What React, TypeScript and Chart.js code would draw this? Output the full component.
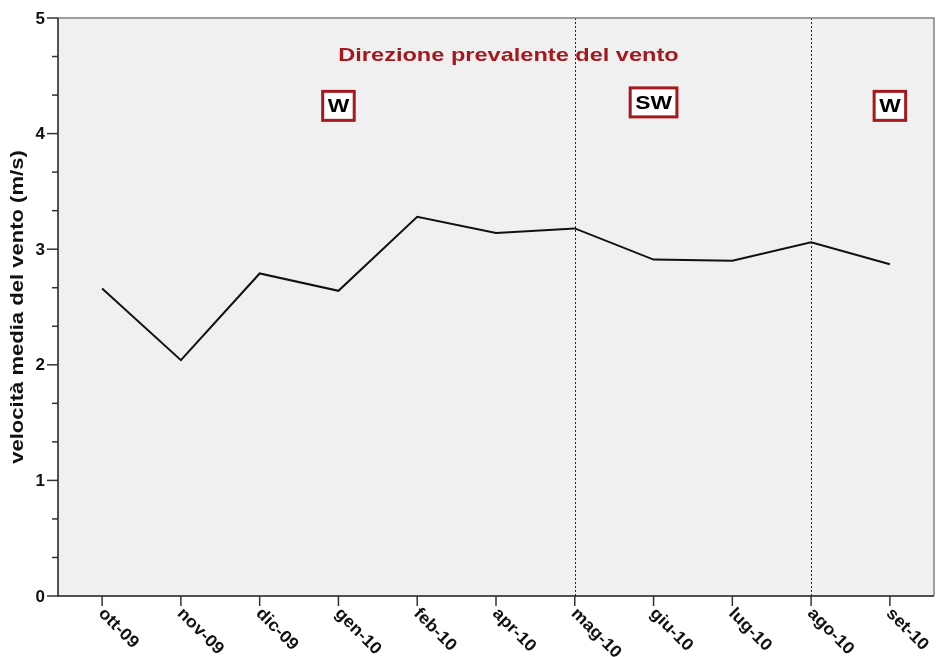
import React, { useEffect, useRef } from "react";
import { Chart, registerables } from "chart.js";

Chart.register(...registerables);

const categories = ["ott-09", "nov-09", "dic-09", "gen-10", "feb-10", "apr-10", "mag-10", "giu-10", "lug-10", "ago-10", "set-10"];
const windSpeed = [2.66, 2.04, 2.79, 2.64, 3.28, 3.14, 3.18, 2.91, 2.90, 3.06, 2.87];
const yTicks = [0, 1, 2, 3, 4, 5];
const dividerCategories = ["mag-10", "ago-10"];
const directionLabels = ["W", "SW", "W"];
const directionCategories = ["gen-10", "giu-10", "set-10"];
const directionTitle = "Direzione prevalente del vento";
const yAxisTitle = "velocità media del vento (m/s)";

const FONT = '"Liberation Sans", Arial, Helvetica, sans-serif';
const RED = "#a3191f";

function stretchedText(ctx: any, text: string, x: number, y: number, sx: number) {
  ctx.save();
  ctx.translate(x, y);
  ctx.scale(sx, 1);
  ctx.fillText(text, 0, 0);
  ctx.restore();
}

const drawPlugin = {
  id: "customDraw",
  beforeDatasetsDraw(chart: any) {
    const { ctx, chartArea: a, scales } = chart;
    const xs = scales.x;
    ctx.save();
    ctx.fillStyle = "#f0f0f0";
    ctx.fillRect(a.left, a.top, a.right - a.left, a.bottom - a.top);
    ctx.strokeStyle = "#222";
    ctx.lineWidth = 1;
    ctx.setLineDash([2, 2]);
    dividerCategories.forEach((c) => {
      const x = Math.round(xs.getPixelForValue(categories.indexOf(c))) + 0.5;
      ctx.beginPath();
      ctx.moveTo(x, a.top);
      ctx.lineTo(x, a.bottom);
      ctx.stroke();
    });
    ctx.restore();
  },
  afterDatasetsDraw(chart: any) {
    const { ctx, chartArea: a, scales } = chart;
    const xs = scales.x;
    const ys = scales.y;
    ctx.save();
    ctx.lineWidth = 1.5;
    ctx.strokeStyle = "#808080";
    ctx.beginPath();
    ctx.moveTo(a.left, a.top);
    ctx.lineTo(a.right, a.top);
    ctx.lineTo(a.right, a.bottom);
    ctx.stroke();
    ctx.strokeStyle = "#1a1a1a";
    ctx.beginPath();
    ctx.moveTo(a.left, a.top);
    ctx.lineTo(a.left, a.bottom);
    ctx.lineTo(a.right, a.bottom);
    ctx.stroke();

    // y ticks
    ctx.lineWidth = 1.5;
    ctx.strokeStyle = "#333";
    ctx.fillStyle = "#111";
    ctx.font = `bold 17px ${FONT}`;
    ctx.textAlign = "right";
    ctx.textBaseline = "middle";
    yTicks.forEach((v, i) => {
      const y = ys.getPixelForValue(v);
      ctx.beginPath();
      ctx.moveTo(a.left - 11, y);
      ctx.lineTo(a.left, y);
      ctx.stroke();
      ctx.fillText(String(v), a.left - 13, y + 1);
      if (i < yTicks.length - 1) {
        const step = yTicks[i + 1] - v;
        [1 / 3, 2 / 3].forEach((f) => {
          const ym = ys.getPixelForValue(v + step * f);
          ctx.beginPath();
          ctx.moveTo(a.left - 6, ym);
          ctx.lineTo(a.left, ym);
          ctx.stroke();
        });
      }
    });

    // x ticks and rotated labels
    ctx.textAlign = "left";
    ctx.textBaseline = "middle";
    categories.forEach((c, i) => {
      const x = xs.getPixelForValue(i);
      ctx.beginPath();
      ctx.moveTo(x, a.bottom);
      ctx.lineTo(x, a.bottom + 10);
      ctx.stroke();
      ctx.save();
      ctx.translate(x - 1, a.bottom + 15);
      ctx.rotate(Math.PI / 4);
      ctx.scale(1.06, 1);
      ctx.fillText(c, 0, 0);
      ctx.restore();
    });

    // y axis title
    ctx.save();
    ctx.translate(18, (a.top + a.bottom) / 2);
    ctx.rotate(-Math.PI / 2);
    ctx.textAlign = "center";
    ctx.textBaseline = "middle";
    ctx.font = `bold 19px ${FONT}`;
    ctx.fillStyle = "#111";
    stretchedText(ctx, yAxisTitle, 0, 0, 1.16);
    ctx.restore();

    // direction title
    ctx.font = `bold 19px ${FONT}`;
    ctx.fillStyle = RED;
    ctx.textAlign = "center";
    ctx.textBaseline = "middle";
    stretchedText(ctx, directionTitle, 508.5, ys.getPixelForValue(4.67), 1.24);

    // direction boxes
    ctx.font = `bold 19px ${FONT}`;
    directionLabels.forEach((lab, k) => {
      const x = xs.getPixelForValue(categories.indexOf(directionCategories[k]));
      const y = ys.getPixelForValue(lab === "SW" ? 4.27 : 4.24);
      const tw = ctx.measureText(lab).width * 1.2;
      const w = tw + 10;
      const h = 29;
      ctx.fillStyle = "#ffffff";
      ctx.fillRect(x - w / 2, y - h / 2, w, h);
      ctx.strokeStyle = RED;
      ctx.lineWidth = 3;
      ctx.strokeRect(x - w / 2, y - h / 2, w, h);
      ctx.fillStyle = "#000";
      stretchedText(ctx, lab, x, y + 1, 1.2);
    });
    ctx.restore();
  },
};

export default function App() {
  const ref = useRef<HTMLCanvasElement | null>(null);
  useEffect(() => {
    if (!ref.current) return;
    const chart = new Chart(ref.current, {
      type: "line",
      data: {
        datasets: [
          {
            data: categories.map((_, i) => ({ x: i, y: windSpeed[i] })),
            borderColor: "#111",
            borderWidth: 2,
            pointRadius: 0,
            tension: 0,
            fill: false,
          },
        ],
      },
      options: {
        animation: false,
        responsive: false,
        events: [],
        layout: { padding: { left: 58, right: 2, top: 18, bottom: 61 } },
        plugins: { legend: { display: false }, tooltip: { enabled: false }, title: { display: false } },
        scales: {
          x: { type: "linear", min: -0.56, max: 10.56, display: false },
          y: { type: "linear", min: 0, max: 5, display: false },
        },
      },
      plugins: [drawPlugin],
    });
    return () => chart.destroy();
  }, []);
  return (
    <div style={{ position: "fixed", left: 0, top: 0, width: 936, height: 657, background: "#fff" }}>
      <canvas ref={ref} width={936} height={657} style={{ width: 936, height: 657 }} />
    </div>
  );
}
